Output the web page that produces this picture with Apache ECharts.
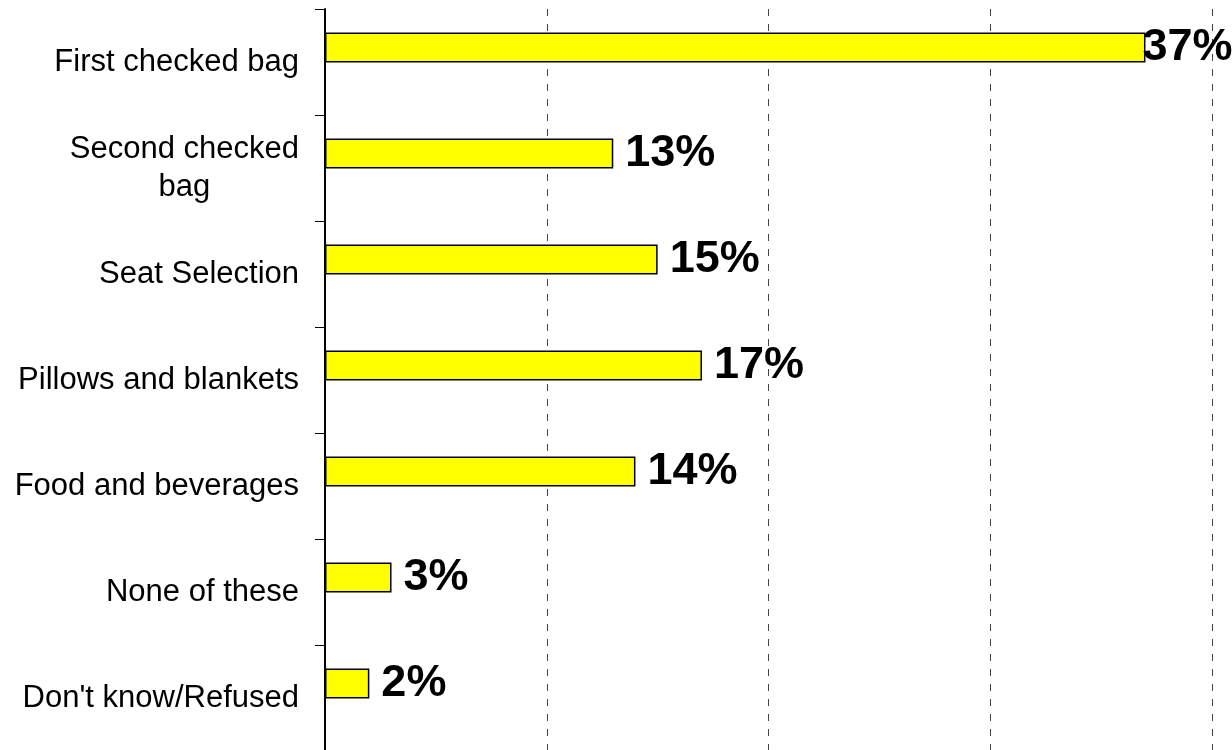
<!DOCTYPE html>
<html>
<head>
<meta charset="utf-8">
<script src="https://cdn.jsdelivr.net/npm/echarts@6/dist/echarts.min.js"></script>
<style>
  html, body { margin: 0; padding: 0; background: #ffffff; }
  #chart { width: 1232px; height: 750px; }
</style>
</head>
<body>
<div id="chart"></div>
<script>
// Ancillary airline fees respondents object to most (percent)
const categories = [
  'First checked bag',
  'Second checked\nbag',
  'Seat Selection',
  'Pillows and blankets',
  'Food and beverages',
  'None of these',
  "Don't know/Refused"
];
const shares = [37, 13, 15, 17, 14, 3, 2];
const axisMin = 0;
const axisMax = 40;
const axisStep = 10;

const FONT = '"Liberation Sans", Arial, Helvetica, sans-serif';
const topShare = Math.max(...shares);

const chart = echarts.init(document.getElementById('chart'), null, { renderer: 'canvas' });

chart.setOption({
  animation: false,
  backgroundColor: '#ffffff',
  grid: {
    left: 325,
    right: 20,
    top: 9,
    bottom: -1,
    containLabel: false,
    outerBoundsMode: 'none'
  },
  xAxis: {
    type: 'value',
    min: axisMin,
    max: axisMax,
    interval: axisStep,
    axisLine: { show: false },
    axisTick: { show: false },
    axisLabel: { show: false },
    splitLine: {
      show: true,
      lineStyle: { color: '#444444', width: 1, type: [7, 8] }
    }
  },
  yAxis: {
    type: 'category',
    inverse: true,
    data: categories,
    axisLine: { show: true, lineStyle: { color: '#000000', width: 2 } },
    axisTick: { show: true, inside: false, length: 10, lineStyle: { color: '#000000', width: 1 } },
    axisLabel: {
      margin: 26,
      fontSize: 31,
      fontFamily: FONT,
      color: '#000000',
      lineHeight: 38,
      formatter: v => v.split('\n').map(s => '{c|' + s + '}').join('\n'),
      rich: {
        c: { align: 'center', fontSize: 31, fontFamily: FONT, color: '#000000', lineHeight: 38 }
      }
    },
    splitLine: { show: false }
  },
  series: [
    {
      type: 'bar',
      barWidth: 30,
      barGap: '-3%',
      data: shares.map(v => v === topShare ? { value: v, label: { distance: -3 } } : v),
      itemStyle: { color: '#FFFF00', borderColor: '#000000', borderWidth: 1.5 },
      label: {
        show: true,
        position: 'right',
        distance: 12,
        formatter: '{c}%',
        fontSize: 45,
        fontWeight: 'bold',
        fontFamily: FONT,
        color: '#000000'
      }
    },
    {
      // empty companion series: keeps each bar in the upper half of its row
      type: 'bar',
      barWidth: 30,
      barGap: '-3%',
      silent: true,
      data: []
    }
  ]
});
</script>
</body>
</html>
